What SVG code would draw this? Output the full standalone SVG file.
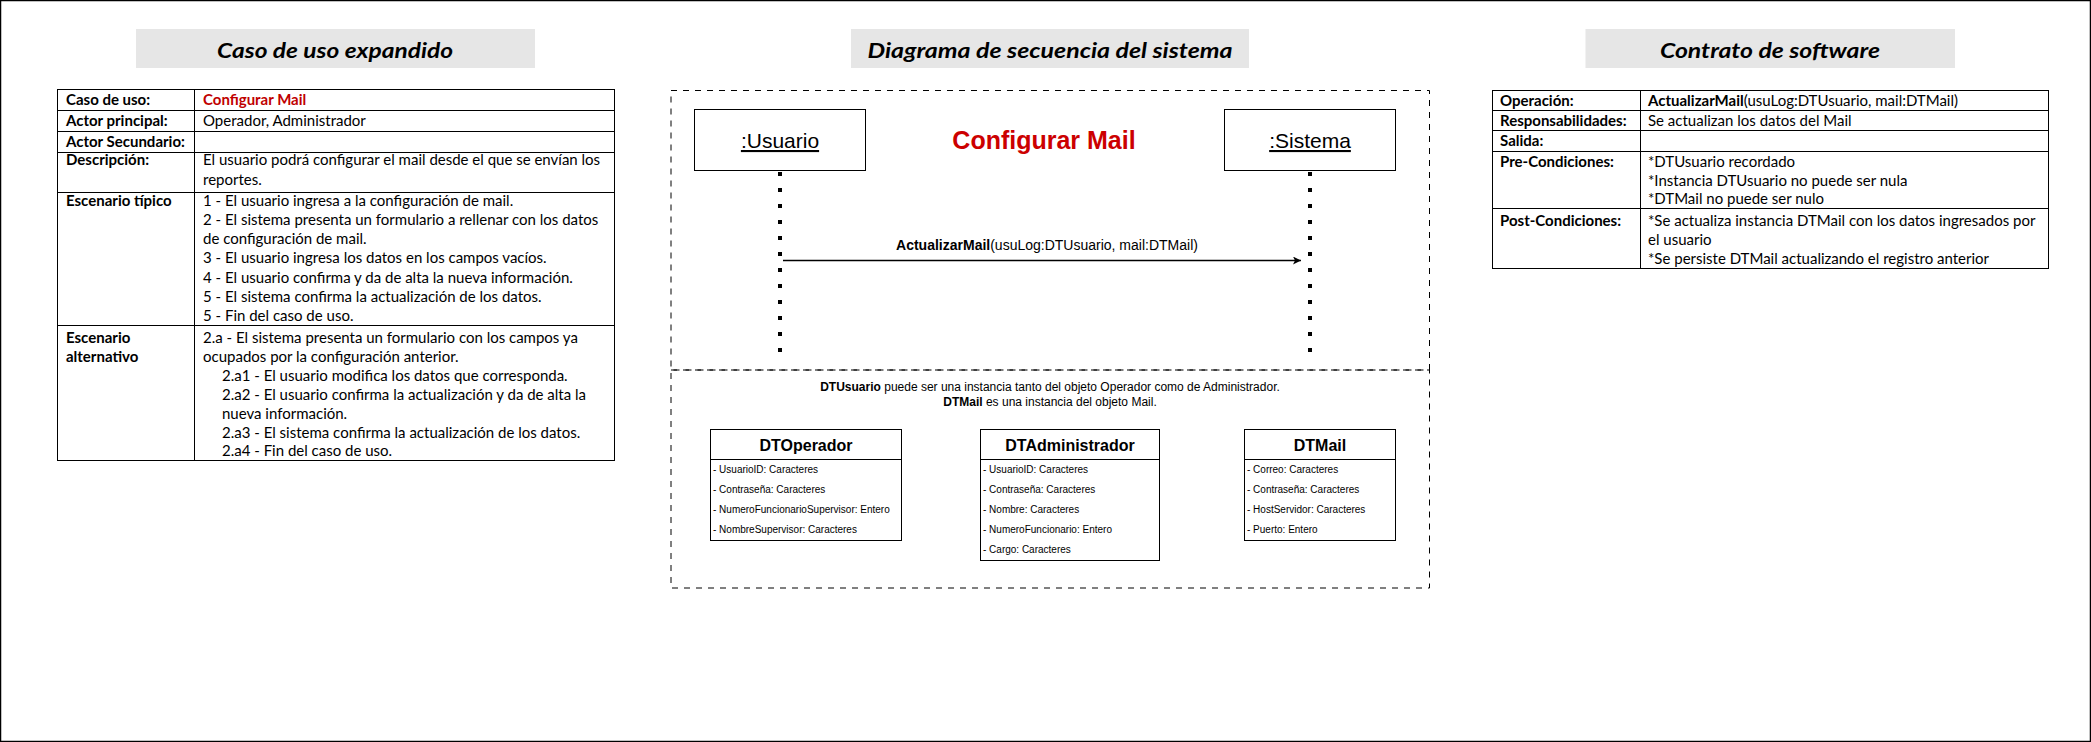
<svg xmlns="http://www.w3.org/2000/svg" width="2091" height="742" viewBox="0 0 2091 742">
<style>
.t{font-family:Lato,"Liberation Sans",sans-serif;font-size:15px;fill:#000}
.b{font-weight:bold}
.red{fill:#c00000}
.ttl{font-family:Lato,"Liberation Sans",sans-serif;font-style:italic;font-weight:bold;font-size:21px;text-anchor:middle;fill:#000}
.tbox{fill:#e6e6e6;stroke:none}
.grid{fill:none;stroke:#000;stroke-width:1}
.a{font-family:"Liberation Sans",Arial,sans-serif;fill:#000}
.dash{fill:none;stroke:#000;stroke-width:1;stroke-dasharray:6 6}
.box{fill:#fff;stroke:#000;stroke-width:1}
.life{stroke:#000;stroke-width:4;stroke-dasharray:4 12}
.attr{font-family:"Liberation Sans",Arial,sans-serif;font-size:10px;fill:#000}
.cls{font-family:"Liberation Sans",Arial,sans-serif;font-size:16px;font-weight:bold;text-anchor:middle;fill:#000}
</style>
<defs>
<marker id="arr" markerWidth="10" markerHeight="10" refX="8" refY="4" orient="auto" markerUnits="userSpaceOnUse">
<path d="M0,0 L8,4 L0,8 L2,4 z" fill="#000"/>
</marker>
</defs>
<rect x="0.5" y="0.5" width="2090" height="741" fill="#fff" stroke="#000" stroke-width="1.5"/>

<g id="caso-uso">
<rect class="tbox" x="136" y="29" width="399" height="39"/>
<text class="ttl" x="335" y="58" textLength="236" lengthAdjust="spacingAndGlyphs">Caso de uso expandido</text>
<rect class="grid" x="57.5" y="89.5" width="557" height="371"/>
<line class="grid" x1="194.5" y1="89.5" x2="194.5" y2="460.5"/>
<line class="grid" x1="57.5" y1="110.5" x2="614.5" y2="110.5"/>
<line class="grid" x1="57.5" y1="131.5" x2="614.5" y2="131.5"/>
<line class="grid" x1="57.5" y1="152.5" x2="614.5" y2="152.5"/>
<line class="grid" x1="57.5" y1="192.5" x2="614.5" y2="192.5"/>
<line class="grid" x1="57.5" y1="325.5" x2="614.5" y2="325.5"/>
<text class="t b" x="66" y="105">Caso de uso:</text>
<text class="t b red" x="203" y="105">Configurar Mail</text>
<text class="t b" x="66" y="126">Actor principal:</text>
<text class="t" x="203" y="126">Operador, Administrador</text>
<text class="t b" x="66" y="146.5">Actor Secundario:</text>
<text class="t b" x="66" y="165">Descripción:</text>
<text class="t" x="203" y="165">El usuario podrá configurar el mail desde el que se envían los</text>
<text class="t" x="203" y="184.5">reportes.</text>
<text class="t b" x="66" y="205.5">Escenario típico</text>
<text class="t" x="203" y="205.5">1 - El usuario ingresa a la configuración de mail.</text>
<text class="t" x="203" y="224.5">2 - El sistema presenta un formulario a rellenar con los datos</text>
<text class="t" x="203" y="244">de configuración de mail.</text>
<text class="t" x="203" y="263">3 - El usuario ingresa los datos en los campos vacíos.</text>
<text class="t" x="203" y="282.5">4 - El usuario  confirma y da de alta la nueva información.</text>
<text class="t" x="203" y="301.5">5 - El sistema confirma la actualización de los datos.</text>
<text class="t" x="203" y="320.5">5 - Fin del caso de uso.</text>
<text class="t b" x="66" y="342.5">Escenario</text>
<text class="t b" x="66" y="361.5">alternativo</text>
<text class="t" x="203" y="342.5">2.a - El sistema presenta un formulario con los campos ya</text>
<text class="t" x="203" y="361.5">ocupados por la configuración anterior.</text>
<text class="t" x="222" y="380.5">2.a1 - El usuario  modifica los datos que corresponda.</text>
<text class="t" x="222" y="399.5">2.a2 - El usuario confirma la actualización y da de alta la</text>
<text class="t" x="222" y="418.5">nueva información.</text>
<text class="t" x="222" y="437.5">2.a3 - El sistema confirma la actualización de los datos.</text>
<text class="t" x="222" y="456">2.a4 - Fin del caso de uso.</text>
</g>

<g id="secuencia-titulo">
<rect class="tbox" x="851" y="29" width="398" height="39"/>
<text class="ttl" x="1050" y="58" textLength="365" lengthAdjust="spacingAndGlyphs">Diagrama de secuencia del sistema</text>
</g>

<g id="marco-secuencia">
<rect class="dash" x="671" y="90.5" width="758.5" height="279.5"/>
<text class="a" x="1044" y="149" font-size="25" font-weight="bold" text-anchor="middle" style="fill:#cc0000">Configurar Mail</text>
</g>

<g id="usuario">
<rect class="box" x="694.5" y="109.5" width="171" height="61"/>
<text class="a" x="780" y="148" font-size="21" text-anchor="middle" text-decoration="underline">:Usuario</text>
</g>

<g id="sistema">
<rect class="box" x="1224.5" y="109.5" width="171" height="61"/>
<text class="a" x="1310" y="148" font-size="21" text-anchor="middle" text-decoration="underline">:Sistema</text>
</g>

<g id="connectors">
<line class="life" x1="780" y1="172" x2="780" y2="352"/>
<line class="life" x1="1310" y1="172" x2="1310" y2="352"/>
<line x1="783" y1="260.5" x2="1301" y2="260.5" stroke="#000" stroke-width="1.3" marker-end="url(#arr)"/>
<text class="a" x="1047" y="250" font-size="14" text-anchor="middle"><tspan font-weight="bold">ActualizarMail</tspan>(usuLog:DTUsuario, mail:DTMail)</text>
</g>

<g id="marco-tipos">
<rect class="dash" x="671" y="370" width="758.5" height="218"/>
<text class="a" x="1050" y="391" font-size="12" text-anchor="middle"><tspan font-weight="bold">DTUsuario</tspan> puede ser una instancia tanto del objeto Operador como de Administrador.</text>
<text class="a" x="1050" y="405.5" font-size="12" text-anchor="middle"><tspan font-weight="bold">DTMail</tspan> es una instancia del objeto Mail.</text>
</g>

<g id="dtoperador">
<rect class="box" x="710.5" y="429.5" width="191" height="111"/>
<line class="grid" x1="710.5" y1="459.5" x2="901.5" y2="459.5"/>
<text class="cls" x="806" y="451">DTOperador</text>
<text class="attr" x="713" y="473">- UsuarioID: Caracteres</text>
<text class="attr" x="713" y="493">- Contraseña: Caracteres</text>
<text class="attr" x="713" y="513">- NumeroFuncionarioSupervisor: Entero</text>
<text class="attr" x="713" y="533">- NombreSupervisor: Caracteres</text>
</g>

<g id="dtadministrador">
<rect class="box" x="980.5" y="429.5" width="179" height="131"/>
<line class="grid" x1="980.5" y1="459.5" x2="1159.5" y2="459.5"/>
<text class="cls" x="1070" y="451">DTAdministrador</text>
<text class="attr" x="983" y="473">- UsuarioID: Caracteres</text>
<text class="attr" x="983" y="493">- Contraseña: Caracteres</text>
<text class="attr" x="983" y="513">- Nombre: Caracteres</text>
<text class="attr" x="983" y="533">- NumeroFuncionario: Entero</text>
<text class="attr" x="983" y="553">- Cargo: Caracteres</text>
</g>

<g id="dtmail">
<rect class="box" x="1244.5" y="429.5" width="151" height="111"/>
<line class="grid" x1="1244.5" y1="459.5" x2="1395.5" y2="459.5"/>
<text class="cls" x="1320" y="451">DTMail</text>
<text class="attr" x="1247" y="473">- Correo: Caracteres</text>
<text class="attr" x="1247" y="493">- Contraseña: Caracteres</text>
<text class="attr" x="1247" y="513">- HostServidor: Caracteres</text>
<text class="attr" x="1247" y="533">- Puerto: Entero</text>
</g>

<g id="contrato">
<rect class="tbox" x="1585.5" y="29" width="369.5" height="39"/>
<text class="ttl" x="1770" y="58" textLength="220" lengthAdjust="spacingAndGlyphs">Contrato de software</text>
<rect class="grid" x="1492.5" y="90.5" width="556" height="178"/>
<line class="grid" x1="1640.5" y1="90.5" x2="1640.5" y2="268.5"/>
<line class="grid" x1="1492.5" y1="110.5" x2="2048.5" y2="110.5"/>
<line class="grid" x1="1492.5" y1="130.5" x2="2048.5" y2="130.5"/>
<line class="grid" x1="1492.5" y1="151.5" x2="2048.5" y2="151.5"/>
<line class="grid" x1="1492.5" y1="208.5" x2="2048.5" y2="208.5"/>
<text class="t b" x="1500" y="105.5">Operación:</text>
<text class="t" x="1648" y="105.5"><tspan font-weight="bold">ActualizarMail</tspan>(usuLog:DTUsuario, mail:DTMail)</text>
<text class="t b" x="1500" y="126">Responsabilidades:</text>
<text class="t" x="1648" y="126">Se actualizan los datos del Mail</text>
<text class="t b" x="1500" y="146">Salida:</text>
<text class="t b" x="1500" y="166.5">Pre-Condiciones:</text>
<text class="t" x="1648" y="166.5">*DTUsuario recordado</text>
<text class="t" x="1648" y="185.5">*Instancia DTUsuario no puede ser nula</text>
<text class="t" x="1648" y="204">*DTMail no puede ser nulo</text>
<text class="t b" x="1500" y="225.5">Post-Condiciones:</text>
<text class="t" x="1648" y="225.5">*Se actualiza instancia DTMail con los datos ingresados por</text>
<text class="t" x="1648" y="245">el usuario</text>
<text class="t" x="1648" y="264">*Se persiste DTMail actualizando el registro anterior</text>
</g>
</svg>
